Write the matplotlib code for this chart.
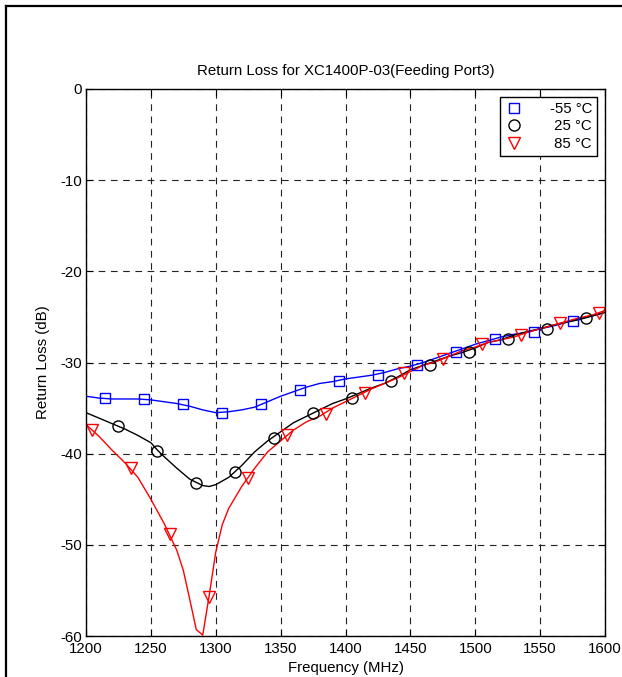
import matplotlib
matplotlib.use('Agg')
import matplotlib.pyplot as plt
from matplotlib.lines import Line2D

plt.rcParams['font.family'] = ['Liberation Sans', 'DejaVu Sans']
plt.rcParams['axes.unicode_minus'] = False

# curve points (MHz, dB)
freq_m55 = [1200, 1210, 1220, 1230, 1240, 1250, 1260, 1270, 1280, 1290, 1300, 1310, 1320,
            1330, 1340, 1350, 1360, 1370, 1380, 1390, 1400, 1410, 1420, 1430, 1440, 1450,
            1460, 1470, 1480, 1490, 1500, 1510, 1520, 1530, 1540, 1550, 1560, 1570, 1580,
            1590, 1600]
rl_m55 = [-33.7, -33.9, -34.0, -34.0, -34.0, -34.1, -34.3, -34.5, -34.8, -35.2, -35.5, -35.4,
          -35.2, -34.9, -34.3, -33.7, -33.2, -32.7, -32.3, -32.1, -31.8, -31.6, -31.4, -31.1,
          -30.7, -30.4, -30.0, -29.5, -29.0, -28.5, -28.0, -27.6, -27.2, -26.9, -26.7, -26.3,
          -26.0, -25.6, -25.2, -24.9, -24.5]

freq_25 = [1200, 1210, 1220, 1230, 1240, 1250, 1255, 1260, 1270, 1280, 1290, 1295, 1300, 1310,
           1320, 1330, 1340, 1350, 1360, 1370, 1380, 1390, 1400, 1410, 1420, 1430, 1440, 1450,
           1460, 1470, 1480, 1490, 1500, 1510, 1520, 1530, 1540, 1550, 1560, 1570, 1580,
           1590, 1600]
rl_25 = [-35.5, -36.1, -36.7, -37.3, -38.0, -38.8, -39.6, -40.3, -41.6, -42.8, -43.5, -43.6,
         -43.4, -42.6, -41.3, -39.8, -38.6, -37.6, -36.6, -35.9, -35.2, -34.5, -34.0, -33.4,
         -32.8, -32.3, -31.6, -30.8, -30.3, -29.8, -29.3, -28.9, -28.4, -27.8, -27.5, -27.0,
         -26.6, -26.3, -25.9, -25.6, -25.3, -24.9, -24.5]

freq_85 = [1200, 1210, 1220, 1230, 1240, 1250, 1260, 1270, 1275, 1280, 1285, 1290, 1295, 1300,
           1305, 1310, 1320, 1330, 1340, 1350, 1360, 1370, 1380, 1390, 1400, 1410, 1420, 1430,
           1440, 1450, 1460, 1470, 1480, 1490, 1500, 1510, 1520, 1530, 1540, 1550, 1560,
           1570, 1580, 1590, 1600]
rl_85 = [-36.8, -38.1, -39.6, -41.0, -42.6, -45.0, -47.6, -50.6, -52.8, -56.0, -59.3, -59.9,
         -55.5, -50.8, -47.8, -46.0, -43.6, -41.6, -39.8, -38.6, -37.4, -36.5, -35.9, -35.0,
         -34.3, -33.6, -32.9, -32.3, -31.7, -31.0, -30.3, -29.9, -29.3, -28.7, -28.3, -27.8,
         -27.5, -27.2, -26.7, -26.3, -25.9, -25.5, -25.1, -24.8, -24.3]

# marker points
mk_f_m55 = [1215, 1245, 1275, 1305, 1335, 1365, 1395, 1425, 1455, 1485, 1515, 1545, 1575]
mk_m55 = [-33.9, -34.0, -34.6, -35.5, -34.6, -33.0, -32.0, -31.4, -30.3, -28.8, -27.4, -26.6, -25.4]
mk_f_25 = [1225, 1255, 1285, 1315, 1345, 1375, 1405, 1435, 1465, 1495, 1525, 1555, 1585]
mk_25 = [-37.0, -39.7, -43.2, -42.0, -38.3, -35.5, -33.9, -32.0, -30.3, -28.9, -27.4, -26.3, -25.1]
mk_f_85 = [1205, 1235, 1265, 1295, 1325, 1355, 1385, 1415, 1445, 1475, 1505, 1535, 1565, 1595]
mk_85 = [-37.4, -41.6, -48.8, -55.7, -42.7, -38.0, -35.6, -33.3, -31.2, -29.6, -28.0, -27.0, -25.7, -24.6]

labels = ['-55 \u00b0C', ' 25 \u00b0C', ' 85 \u00b0C']

fs = 10.8
fig = plt.figure(figsize=(6.22, 6.77), dpi=100)
ax = fig.add_axes([86 / 622, 41 / 677, 519 / 622, 547 / 677])

ax.plot(freq_m55, rl_m55, color='#0000ff', lw=1.0)
ax.plot(freq_25, rl_25, color='black', lw=1.0)
ax.plot(freq_85, rl_85, color='#ff0000', lw=1.0)

ax.plot(mk_f_m55, mk_m55, ls='none', marker='s', ms=7, mfc='none', mec='#0000ff', mew=1.0, label=labels[0])
ax.plot(mk_f_25, mk_25, ls='none', marker='o', ms=8, mfc='none', mec='black', mew=1.0, label=labels[1])
ax.plot(mk_f_85, mk_85, ls='none', marker='v', ms=8.5, mfc='none', mec='#ff0000', mew=1.0, label=labels[2])

ax.set_xlim(1200, 1600)
ax.set_ylim(-60, 0)
ax.set_xticks(range(1200, 1601, 50))
ax.set_yticks(range(-60, 1, 10))
ax.grid(True, color='#222222', lw=0.8, ls=(0, (6, 5)))
ax.tick_params(direction='in', top=True, right=True, length=5, labelsize=fs, pad=3)
ax.tick_params(axis='x', pad=4)
for s in ax.spines.values():
    s.set_linewidth(1.0)

ax.set_title('Return Loss for XC1400P-03(Feeding Port3)', fontsize=fs, pad=10)
ax.set_xlabel('Frequency (MHz)', fontsize=fs, labelpad=4)
ax.set_ylabel('Return Loss (dB)', fontsize=fs, labelpad=7)

leg = ax.legend(loc='upper right', fontsize=fs, fancybox=False, framealpha=1,
                edgecolor='black', handlelength=1.2, handletextpad=1.8,
                borderaxespad=0.55, labelspacing=0.25, borderpad=0.3)
leg.get_frame().set_linewidth(1.0)

# outer frame lines of the original page
fig.add_artist(Line2D([6 / 622, 6 / 622], [0, 1 - 6 / 677], color='black', lw=1.6))
fig.add_artist(Line2D([6 / 622, 1], [1 - 6 / 677, 1 - 6 / 677], color='black', lw=1.6))

fig.savefig('out.png', dpi=100)
